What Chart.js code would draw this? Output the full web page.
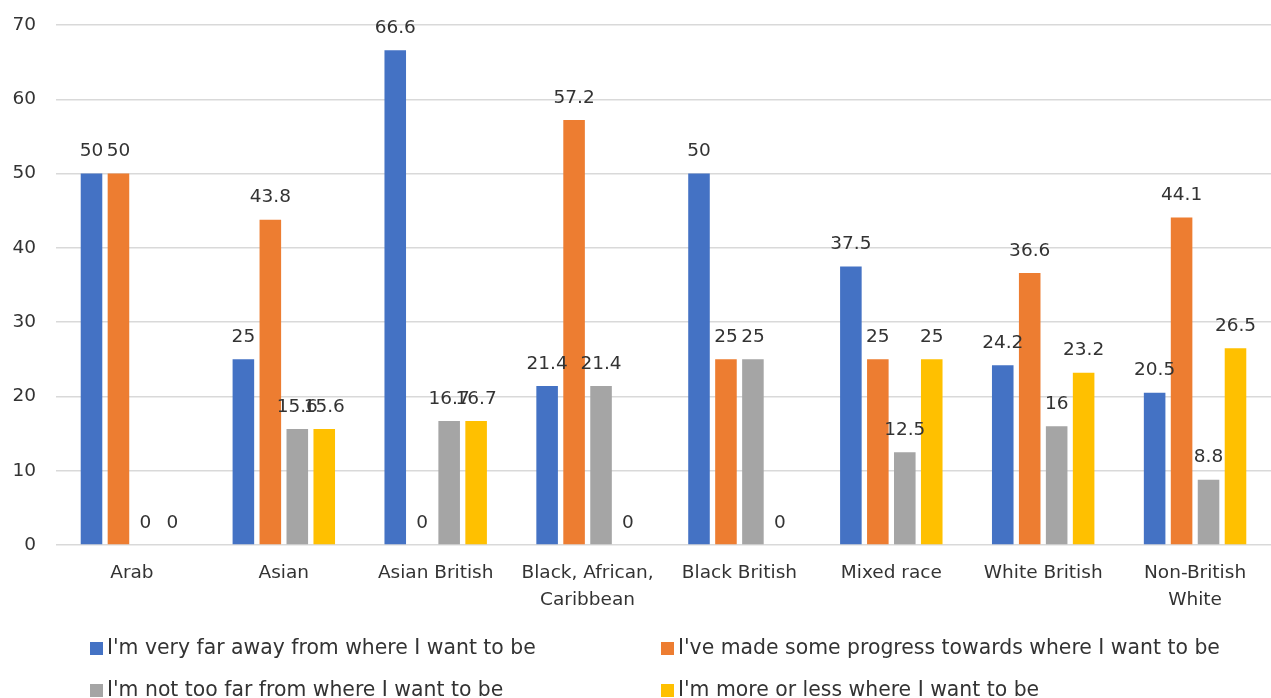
<!DOCTYPE html>
<html>
<head>
<meta charset="utf-8">
<script src="https://cdn.jsdelivr.net/npm/chart.js@4/dist/chart.umd.min.js"></script>
<style>
  html, body { margin: 0; padding: 0; background: #fff; }
  #wrap { width: 1271px; height: 698px; position: relative; }
</style>
</head>
<body>
<div id="wrap"><canvas id="c"></canvas></div>
<script>
// Categories (multi-line labels where the axis wraps them)
const categories = [
  'Arab',
  'Asian',
  'Asian British',
  ['Black, African,', 'Caribbean'],
  'Black British',
  'Mixed race',
  'White British',
  ['Non-British', 'White']
];

const seriesNames = [
  "I'm very far away from where I want to be",
  "I've made some progress towards where I want to be",
  "I'm not too far from where I want to be",
  "I'm more or less where I want to be"
];

const veryFar      = [50, 25, 66.6, 21.4, 50, 37.5, 24.2, 20.5];
const someProgress = [50, 43.8, 0, 57.2, 25, 25, 36.6, 44.1];
const notTooFar    = [0, 15.6, 16.7, 21.4, 25, 12.5, 16, 8.8];
const moreOrLess   = [0, 15.6, 16.7, 0, 0, 25, 23.2, 26.5];

const yTicks = [0, 10, 20, 30, 40, 50, 60, 70];

const seriesColors = ['#4472C4', '#ED7D31', '#A5A5A5', '#FFC000'];
const FONT = "'DejaVu Sans', sans-serif";
const TEXT = '#333333';

// Value labels above each bar
const valueLabels = {
  id: 'valueLabels',
  afterDatasetsDraw(chart) {
    const ctx = chart.ctx;
    ctx.save();
    ctx.font = '18.5px ' + FONT;
    ctx.fillStyle = TEXT;
    ctx.textAlign = 'center';
    ctx.textBaseline = 'bottom';
    chart.data.datasets.forEach((ds, i) => {
      const meta = chart.getDatasetMeta(i);
      meta.data.forEach((bar, j) => {
        ctx.fillText(String(ds.data[j]), bar.x, bar.y - 13);
      });
    });
    ctx.restore();
  }
};

// Two-column legend under the axis
const columnLegend = {
  id: 'columnLegend',
  afterDraw(chart) {
    const ctx = chart.ctx;
    const colX = [90, 661];
    const rowY = [648, 690];
    ctx.save();
    ctx.font = '20.4px ' + FONT;
    ctx.textBaseline = 'middle';
    ctx.textAlign = 'left';
    chart.data.datasets.forEach((ds, i) => {
      const x = colX[i % 2];
      const y = rowY[Math.floor(i / 2)];
      ctx.fillStyle = ds.backgroundColor;
      ctx.fillRect(x, y - 6, 13, 13);
      ctx.fillStyle = TEXT;
      ctx.fillText(ds.label, x + 17, y + 1);
    });
    ctx.restore();
  }
};

const datasets = [veryFar, someProgress, notTooFar, moreOrLess].map((vals, i) => ({
  label: seriesNames[i],
  data: vals,
  backgroundColor: seriesColors[i],
  borderWidth: 0,
  categoryPercentage: 0.71,
  barPercentage: 0.8
}));

new Chart(document.getElementById('c'), {
  type: 'bar',
  data: { labels: categories, datasets },
  options: {
    responsive: true,
    maintainAspectRatio: false,
    animation: false,
    layout: { autoPadding: false, padding: { top: 25, left: 0, right: 0, bottom: 0 } },
    plugins: {
      legend: { display: false },
      tooltip: { enabled: false }
    },
    scales: {
      x: {
        grid: { display: false, drawTicks: false },
        border: { display: false },
        ticks: {
          color: TEXT,
          font: { family: FONT, size: 18.5, lineHeight: 1.45 },
          padding: 15,
          maxRotation: 0,
          autoSkip: false
        },
        afterFit(scale) { scale.height = 153; }
      },
      y: {
        min: 0,
        max: 70,
        afterBuildTicks(scale) { scale.ticks = yTicks.map(v => ({ value: v })); },
        grid: { color: '#D9D9D9', lineWidth: 1.5, drawTicks: false },
        border: { display: false },
        ticks: {
          color: TEXT,
          font: { family: FONT, size: 18.5 },
          padding: 20
        },
        afterFit(scale) {
          scale.width = 56;
          scale.paddingTop = 0;
          scale.paddingBottom = 0;
        }
      }
    }
  },
  plugins: [valueLabels, columnLegend]
});
</script>
</body>
</html>
